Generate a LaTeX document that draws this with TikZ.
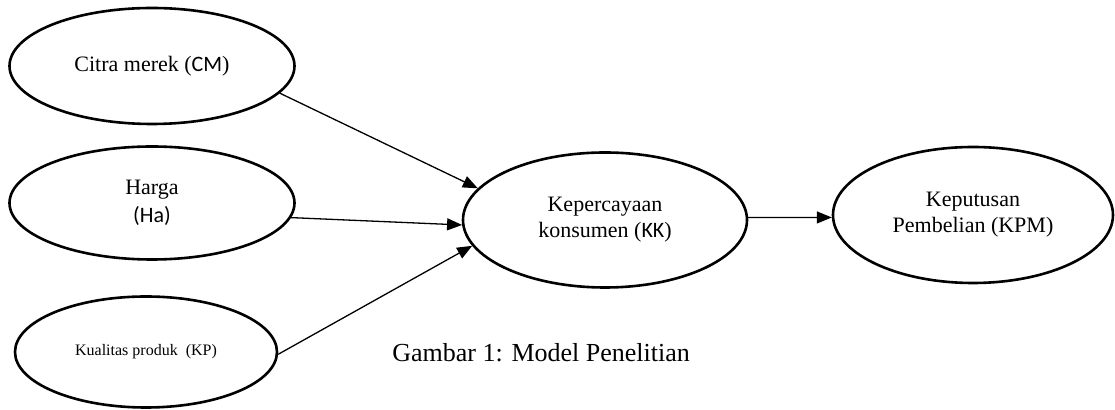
\documentclass[tikz,border=0pt]{standalone}
\usepackage{fontspec}
\setmainfont{Liberation Serif}
\newfontfamily\carlito{Carlito}
\usepackage{tikz}
\usetikzlibrary{arrows.meta,shapes.geometric}
\tikzset{el/.style={ellipse, draw, line width=1.3pt, inner sep=0pt,
  align=center, font=\fontsize{11}{13}\selectfont}}
\tikzset{ar/.style={draw, line width=0.65pt, -{Triangle[length=7.5pt,width=6pt]}}}

\begin{document}
\begin{tikzpicture}[x=0.5pt, y=-0.5pt]
  \useasboundingbox (0,0) rectangle (1115,410);
  %%
  \node (cm) at (152,66) [el, minimum width=142.5pt, minimum height=58pt]
    {Citra merek ({\carlito CM})};
  \node (ha) at (152,203) [el, minimum width=142.5pt, minimum height=56.5pt,
    font=\fontsize{11}{14}\selectfont] {Harga\\{\carlito (Ha)}};
  \node (kp) at (146,352) [el, minimum width=131pt, minimum height=55.5pt,
    font=\fontsize{8}{10}\selectfont] {Kualitas produk \ (KP)};
  \node (kk) at (605,220) [el, minimum width=142pt, minimum height=67.5pt]
    {Kepercayaan\\konsumen ({\carlito KK})};
  \node (kpm) at (973,215) [el, minimum width=140pt, minimum height=68pt]
    {Keputusan\\Pembelian (KPM)};
  \node (cap) at (392,362) [anchor=base west, inner sep=0pt,
    font=\fontsize{13}{15}\selectfont] {Gambar 1: Model Penelitian};
  %%
  \path[ar] (cm.-12) to (kk.166);
  \path[ar] (ha.-6) to (kk.182);
  \path[ar] (kp.-1) to (kk.191);
  \path[ar] (kk.1) to (kpm.181);
\end{tikzpicture}
\end{document}
